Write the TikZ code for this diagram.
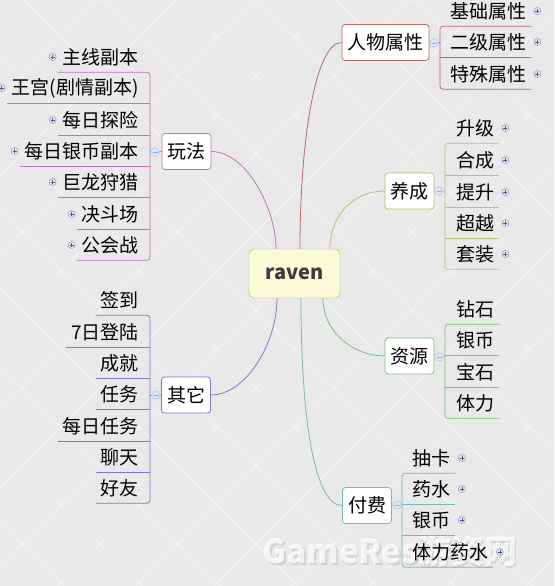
\documentclass[tikz,border=0pt]{standalone}
\usepackage{fontspec}
\setmainfont{Noto Sans CJK SC}
\usetikzlibrary{calc}
\definecolor{bgc}{HTML}{E9E9E9}
\definecolor{cRed}{HTML}{B86A6A}
\definecolor{cOlive}{HTML}{BDBD7A}
\definecolor{cGreen}{HTML}{78BF78}
\definecolor{cTeal}{HTML}{7DB5B5}
\definecolor{cPurp}{HTML}{BE74BE}
\definecolor{cBlue}{HTML}{7A7AC4}
\definecolor{rootfill}{HTML}{FAFAD6}
\definecolor{rootdraw}{HTML}{A5A590}
\definecolor{roottext}{HTML}{3C3C3C}
\definecolor{pdraw}{HTML}{8494B4}
\definecolor{pfill}{HTML}{E6ECF6}
\definecolor{psign}{HTML}{4A5A78}
\definecolor{mdraw}{HTML}{B4C8EC}
\definecolor{mfill}{HTML}{DCE6F7}
\definecolor{msign}{HTML}{98AEDC}
\newcommand{\fs}{\fontsize{19}{22}\selectfont}
\tikzset{
  bgline/.style={white, opacity=0.45, line width=0.8pt},
  rootbox/.style={draw=rootdraw, fill=rootfill, rounded corners=5pt, minimum width=91pt, minimum height=49pt, inner sep=0pt, text=roottext, font=\bfseries\fontsize{20}{24}\selectfont},
  mainbox/.style={draw=#1, fill=white, rounded corners=3pt, minimum height=36pt, inner xsep=5.5pt, inner ysep=0pt, font=\fs, line width=0.8pt},
  leaf/.style={inner xsep=5pt, inner ysep=0pt, minimum height=30pt, font=\fs, text=black},
  br/.style={draw=#1, line width=0.8pt, rounded corners=3pt},
  conn/.style={draw=#1, line width=0.8pt},
  plusdot/.style={circle, draw=pdraw, fill=pfill, minimum size=7pt, inner sep=0pt, line width=0.5pt,
    path picture={\draw[psign, line width=0.6pt] ([xshift=-2pt]path picture bounding box.center) -- ([xshift=2pt]path picture bounding box.center) ([yshift=-2pt]path picture bounding box.center) -- ([yshift=2pt]path picture bounding box.center);}},
  minusdot/.style={circle, draw=mdraw, fill=mfill, minimum size=8.5pt, inner sep=0pt, line width=0.6pt,
    path picture={\draw[msign, line width=0.8pt] ([xshift=-2.5pt]path picture bounding box.center) -- ([xshift=2.5pt]path picture bounding box.center);}},
  wmark/.style={text=white, font=\bfseries\fontsize{33}{36}\selectfont}
}
\begin{document}
\begin{tikzpicture}[x=1pt, y=-1pt]
\useasboundingbox (0,0) rectangle (554,586);
% background
\fill[bgc] (0,0) rectangle (554,586);
\begin{scope}
\clip (0,0) rectangle (554,586);
\foreach \k in {-10,...,10} {
  \draw[bgline] ({180+78*\k-10},-10) -- ({180+78*\k+600},600);
}
\foreach \k in {-4,...,12} {
  \draw[bgline] ({254+78*\k+10},-10) -- ({254+78*\k-600},600);
}
\end{scope}

% watermark (behind the diagram)
\node[wmark, text=black, opacity=0.10] (wms) at (391.5,552.5) {GameRes游资网};
\node[wmark, opacity=0.75] (wm) at (390,551) {GameRes游资网};

% root and main topics
\node[rootbox] (root) at (294.5,273.5) {raven};
\node[mainbox=cRed] (rw) at (385.5,42.5) {人物属性};
\node[mainbox=cOlive] (yc) at (409.5,191) {养成};
\node[mainbox=cGreen] (zy) at (409.5,356) {资源};
\node[mainbox=cTeal] (ff) at (367,505.5) {付费};
\node[mainbox=cPurp] (wf) at (186.5,151.5) {玩法};
\node[mainbox=cBlue] (qt) at (186,395) {其它};

% connectors from root
\draw[conn=cRed] ([xshift=5.5pt]root.north) .. controls +(0,-110) and +(-26,0) .. (rw.west);
\draw[conn=cOlive] ([xshift=35.5pt]root.north) .. controls +(0,-35) and +(-30,0) .. (yc.west);
\draw[conn=cGreen] ([xshift=28.5pt]root.south) .. controls +(0,35) and +(-30,0) .. (zy.west);
\draw[conn=cTeal] ([xshift=6.5pt]root.south) .. controls +(0,130) and +(-26,0) .. (ff.west);
\draw[conn=cPurp] ([xshift=-18.5pt]root.north) .. controls +(0,-40) and +(35,0) .. (wf.east);
\draw[conn=cBlue] ([xshift=-17.5pt]root.south) .. controls +(0,45) and +(35,0) .. (qt.east);

% bracket x positions
\coordinate (rwB) at (440,0);
\coordinate (ycB) at (445,0);
\coordinate (zyB) at (445,0);
\coordinate (ffB) at (402,0);
\coordinate (wfB) at (150,0);
\coordinate (qtB) at (150,0);

% ---- 人物属性 children
\node[leaf, anchor=west] (rw1) at (445,11) {基础属性};
\node[leaf, anchor=west] (rw2) at (445,42) {二级属性};
\node[leaf, anchor=west] (rw3) at (445,74) {特殊属性};
\draw[br=cRed] (rw1.south east) -- (rw1.south -| rwB) -- (rw3.south -| rwB) -- (rw3.south east);
\draw[br=cRed] (rw2.south -| rwB) -- (rw2.south east);
\draw[conn=cRed] (rw.east) -- (rw.east -| rwB);
\node[minusdot] (rwm) at (434,43) {};
\foreach \n in {rw1,rw2,rw3} { \node[plusdot] (\n p) at ([xshift=6pt]\n.east) {}; }

% ---- 养成 children
\node[leaf, anchor=west] (yc1) at (451,128) {升级};
\node[leaf, anchor=west] (yc2) at (451,160) {合成};
\node[leaf, anchor=west] (yc3) at (451,192) {提升};
\node[leaf, anchor=west] (yc4) at (451,223) {超越};
\node[leaf, anchor=west] (yc5) at (451,254) {套装};
\draw[br=cOlive] (yc1.south east) -- (yc1.south -| ycB) -- (yc5.south -| ycB) -- (yc5.south east);
\foreach \n in {yc2,yc3,yc4} { \draw[br=cOlive] (\n.south -| ycB) -- (\n.south east); }
\draw[conn=cOlive] (yc.east) -- (yc.east -| ycB);
\node[minusdot] (ycm) at (439,191) {};
\foreach \n in {yc1,yc2,yc3,yc4,yc5} { \node[plusdot] (\n p) at ([xshift=6pt]\n.east) {}; }

% ---- 资源 children
\node[leaf, anchor=west] (zy1) at (451,309) {钻石};
\node[leaf, anchor=west] (zy2) at (451,340) {银币};
\node[leaf, anchor=west] (zy3) at (451,372) {宝石};
\node[leaf, anchor=west] (zy4) at (451,403) {体力};
\draw[br=cGreen] (zy1.south east) -- (zy1.south -| zyB) -- (zy4.south -| zyB) -- (zy4.south east);
\foreach \n in {zy2,zy3} { \draw[br=cGreen] (\n.south -| zyB) -- (\n.south east); }
\draw[conn=cGreen] (zy.east) -- (zy.east -| zyB);
\node[minusdot] (zym) at (439,357) {};

% ---- 付费 children
\node[leaf, anchor=west] (ff1) at (407,458) {抽卡};
\node[leaf, anchor=west] (ff2) at (407,489) {药水};
\node[leaf, anchor=west] (ff3) at (407,520) {银币};
\node[leaf, anchor=west] (ff4) at (407,552) {体力药水};
\draw[br=cTeal] (ff1.south east) -- (ff1.south -| ffB) -- (ff4.south -| ffB) -- (ff4.south east);
\foreach \n in {ff2,ff3} { \draw[br=cTeal] (\n.south -| ffB) -- (\n.south east); }
\draw[conn=cTeal] (ff.east) -- (ff.east -| ffB);
\node[minusdot] (ffm) at (397,505) {};
\foreach \n in {ff1,ff2,ff3,ff4} { \node[plusdot] (\n p) at ([xshift=6.5pt]\n.east) {}; }

% ---- 玩法 children
\node[leaf, anchor=east] (wf1) at (144,57) {主线副本};
\node[leaf, anchor=east] (wf2) at (144,88) {王宫(剧情副本)};
\node[leaf, anchor=east] (wf3) at (144,120) {每日探险};
\node[leaf, anchor=east] (wf4) at (144,151) {每日银币副本};
\node[leaf, anchor=east] (wf5) at (144,182) {巨龙狩猎};
\node[leaf, anchor=east] (wf6) at (144,214) {决斗场};
\node[leaf, anchor=east] (wf7) at (144,245) {公会战};
\draw[br=cPurp] (wf1.south west) -- (wf1.south -| wfB) -- (wf7.south -| wfB) -- (wf7.south west);
\foreach \n in {wf2,wf3,wf4,wf5,wf6} { \draw[br=cPurp] (\n.south -| wfB) -- (\n.south west); }
\draw[conn=cPurp] (wf.west) -- (wf.west -| wfB);
\node[minusdot] (wfm) at (155,152) {};
\foreach \n in {wf1,wf2,wf3,wf4,wf5,wf6,wf7} { \node[plusdot] (\n p) at ([xshift=-5pt]\n.west) {}; }

% ---- 其它 children
\node[leaf, anchor=east] (qt1) at (144,300) {签到};
\node[leaf, anchor=east] (qt2) at (144,332) {7日登陆};
\node[leaf, anchor=east] (qt3) at (144,363) {成就};
\node[leaf, anchor=east] (qt4) at (144,394) {任务};
\node[leaf, anchor=east] (qt5) at (144,426) {每日任务};
\node[leaf, anchor=east] (qt6) at (144,457) {聊天};
\node[leaf, anchor=east] (qt7) at (144,488) {好友};
\draw[br=cBlue] (qt1.south west) -- (qt1.south -| qtB) -- (qt7.south -| qtB) -- (qt7.south west);
\foreach \n in {qt2,qt3,qt4,qt5,qt6} { \draw[br=cBlue] (\n.south -| qtB) -- (\n.south west); }
\draw[conn=cBlue] (qt.west) -- (qt.west -| qtB);
\node[minusdot] (qtm) at (156,395) {};
\end{tikzpicture}
\end{document}
